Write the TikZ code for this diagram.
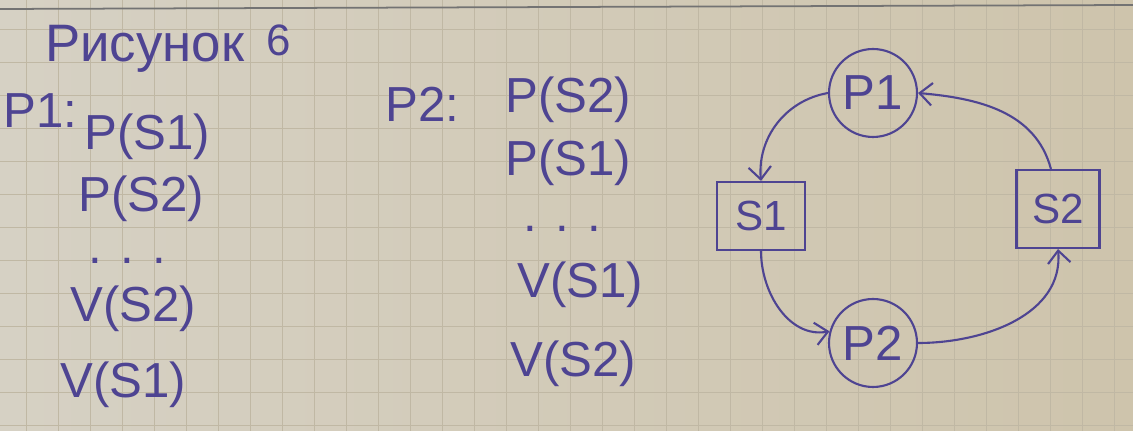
\documentclass[tikz,border=0pt]{standalone}
\usepackage{fontspec}
\setmainfont{Liberation Sans}
\usetikzlibrary{arrows.meta}
\definecolor{inkblue}{RGB}{78, 68, 146}
\definecolor{paperleft}{RGB}{214, 209, 196}
\definecolor{paperright}{RGB}{206, 196, 172}
\definecolor{gridgray}{RGB}{192, 184, 164}

\begin{document}
\begin{tikzpicture}[x=0.02cm, y=-0.02cm,
    hand/.style={text=inkblue, inner sep=0pt, font=\fontsize{28}{30}\selectfont},
    proc/.style={circle, draw=inkblue, line width=1.2pt, text=inkblue, minimum size=1.76cm, inner sep=0pt, font=\fontsize{28}{30}\selectfont},
    res/.style={rectangle, draw=inkblue, line width=1.2pt, text=inkblue, inner sep=0pt, font=\fontsize{24}{26}\selectfont},
    link/.style={inkblue, line width=1.2pt, -{Straight Barb[length=2.5mm, width=4.5mm]}}]
	\useasboundingbox (0,0) rectangle (1133,431);
	\shade[left color=paperleft, right color=paperright] (0,0) rectangle (1133,431);
	\foreach \gx in {26,58,...,1133} {
		\draw[gridgray, line width=0.4pt] (\gx,0) -- (\gx,431);
	}
	\foreach \gy in {29,62,...,431} {
		\draw[gridgray, line width=0.4pt] (0,\gy) -- (1133,\gy);
	}
	\draw[black!55, line width=1pt] (0,9) -- (1133,5);

	\node[hand, anchor=base west, font=\fontsize{30}{32}\selectfont] (title) at (45,62) {Рисунок};
	\node[hand, anchor=base west, font=\fontsize{25}{27}\selectfont] (titlenum) at (266,56) {6};

	\node[hand, anchor=base west] (p1list) at (3,128) {P1:};
	\node[hand, anchor=base west] (p1a) at (84,150) {P(S1)};
	\node[hand, anchor=base west] (p1b) at (78,212) {P(S2)};
	\node[hand, anchor=base west] (p1c) at (88,264) {. . .};
	\node[hand, anchor=base west] (p1d) at (70,322) {V(S2)};
	\node[hand, anchor=base west] (p1e) at (60,398) {V(S1)};

	\node[hand, anchor=base west] (p2list) at (385,122) {P2:};
	\node[hand, anchor=base west] (p2a) at (505,113) {P(S2)};
	\node[hand, anchor=base west] (p2b) at (505,176) {P(S1)};
	\node[hand, anchor=base west] (p2c) at (523,232) {. . .};
	\node[hand, anchor=base west] (p2d) at (517,298) {V(S1)};
	\node[hand, anchor=base west] (p2e) at (510,377) {V(S2)};

	\node[proc] (P1) at (873,93) {P1};
	\node[proc] (P2) at (873,343) {P2};
	\node[res, minimum width=1.76cm, minimum height=1.36cm] (S1) at (761,216) {S1};
	\node[res, minimum width=1.66cm, minimum height=1.56cm] (S2) at (1058,209) {S2};

	\draw[link] (P1.west) to[out=190, in=95] (S1.north);
	\draw[link] (S1.south) to[out=-90, in=190] (P2.165);
	\draw[link] (P2.east) to[out=0, in=-85] (S2.south);
	\draw[link] (S2.100) to[out=105, in=-5] (P1.east);
\end{tikzpicture}
\end{document}
